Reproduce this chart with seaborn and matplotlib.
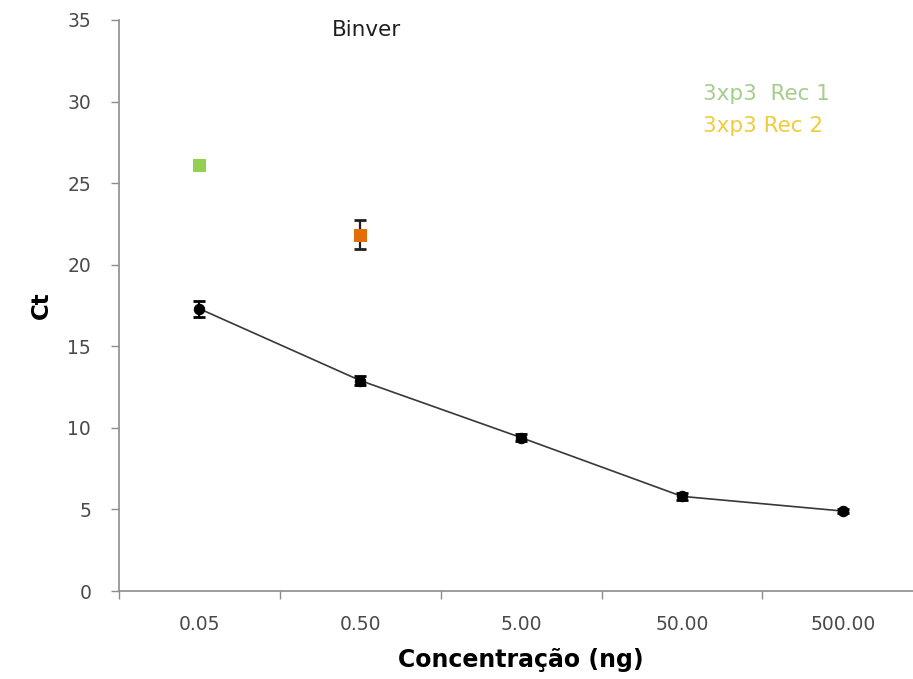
import matplotlib
matplotlib.use("Agg")
import matplotlib.pyplot as plt
import numpy as np
import pandas as pd
import seaborn as sns

# data
conc_labels = ["0.05", "0.50", "5.00", "50.00", "500.00"]
ct_std = [17.3, 12.9, 9.4, 5.8, 4.9]
ct_std_err = [0.5, 0.3, 0.2, 0.2, 0.1]

rec1_conc = ["0.05"]
rec1_ct = [26.1]

rec2_conc = ["0.50"]
rec2_ct = [21.85]
rec2_err = [0.9]

GREEN = "#92d050"
ORANGE = "#e46c0a"
TICK_GRAY = "#4a4a4a"
AXIS_GRAY = "#8c8c8c"

sns.set_theme(style="white")
plt.rcParams["font.family"] = ["DejaVu Sans"]

fig = plt.figure(figsize=(9.13, 6.79), dpi=100)
ax = fig.add_axes([0.1303, 0.1296, 0.881, 0.841])

std = pd.DataFrame({"conc": conc_labels, "ct": ct_std, "err": ct_std_err})
sns.lineplot(data=std, x="conc", y="ct", ax=ax, color="#383838",
             linewidth=1.2, marker="o", markersize=7.5,
             markerfacecolor="black", markeredgecolor="black",
             errorbar=None, sort=False)
ax.errorbar(std["conc"], std["ct"], yerr=std["err"], fmt="none",
            ecolor="black", elinewidth=1.6, capsize=4.3, capthick=2.0,
            zorder=3)

rec1 = pd.DataFrame({"conc": rec1_conc, "ct": rec1_ct})
sns.scatterplot(data=rec1, x="conc", y="ct", ax=ax, marker="s", s=85,
                color=GREEN, edgecolor=GREEN, zorder=4)

rec2 = pd.DataFrame({"conc": rec2_conc, "ct": rec2_ct, "err": rec2_err})
ax.errorbar(rec2["conc"], rec2["ct"], yerr=rec2["err"], fmt="none",
            ecolor="#202020", elinewidth=1.6, capsize=4.3, capthick=2.0,
            zorder=3)
sns.scatterplot(data=rec2, x="conc", y="ct", ax=ax, marker="s", s=85,
                color=ORANGE, edgecolor=ORANGE, zorder=4)

ax.set_xlim(-0.5, len(conc_labels) - 0.5)
ax.set_ylim(0, 35)
ax.set_yticks(np.arange(0, 36, 5))

# category boundaries carry the tick marks, labels sit centred
ax.set_xticks(np.arange(-0.5, len(conc_labels), 1.0))
ax.set_xticklabels([])
ax.set_xticks(np.arange(len(conc_labels)), minor=True)
ax.set_xticklabels(conc_labels, minor=True)
ax.tick_params(axis="x", which="major", direction="out", length=6,
               width=1, color=AXIS_GRAY, bottom=True)
ax.tick_params(axis="x", which="minor", length=0, pad=17,
               labelsize=13.5, labelcolor=TICK_GRAY)
ax.tick_params(axis="y", direction="out", length=6, width=1,
               color=AXIS_GRAY, left=True, pad=14,
               labelsize=13.5, labelcolor=TICK_GRAY)

for side in ["top", "right"]:
    ax.spines[side].set_visible(False)
for side in ["left", "bottom"]:
    ax.spines[side].set_color(AXIS_GRAY)
    ax.spines[side].set_linewidth(1.2)

ax.set_xlabel("Concentração (ng)", fontsize=17, fontweight="bold",
              color="black", va="center")
ax.xaxis.set_label_coords(0.5, -0.121)
ax.set_ylabel("Ct", fontsize=16.5, fontweight="bold", color="black",
              va="center")
ax.yaxis.set_label_coords(-0.096, 0.5)

fig.text(366 / 913, 1 - 30 / 679, "Binver", fontsize=15.5, color="#202020",
         ha="center", va="center")
fig.text(703 / 913, 1 - 94 / 679, "3xp3  Rec 1", fontsize=15.5,
         color="#a3cf8a", ha="left", va="center")
fig.text(703 / 913, 1 - 126 / 679, "3xp3 Rec 2", fontsize=15.5,
         color="#f0cb3a", ha="left", va="center")

fig.savefig("out.png", dpi=100)
